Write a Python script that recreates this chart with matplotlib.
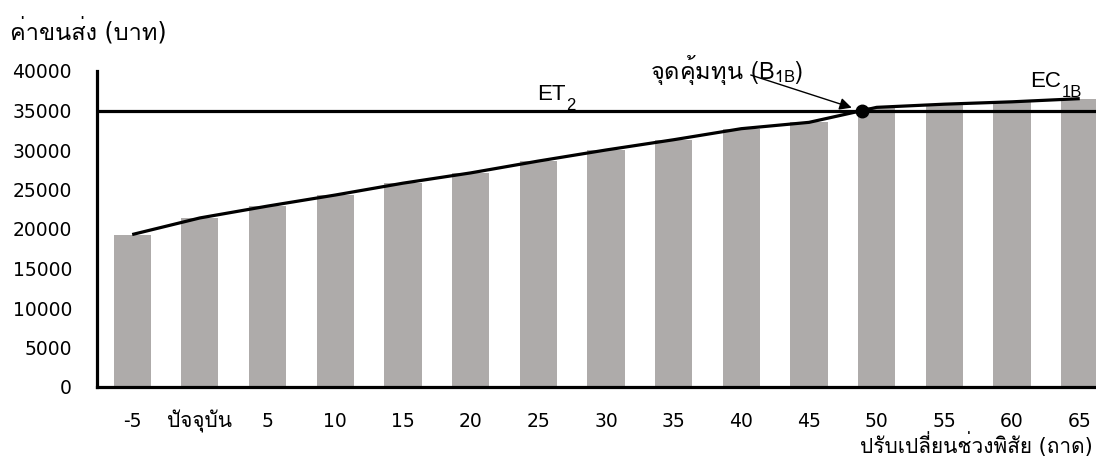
import numpy as np
import matplotlib
matplotlib.use("Agg")
import matplotlib.pyplot as plt
from matplotlib import font_manager
from matplotlib.ft2font import FT2Font

# find a font that has Thai glyphs
thai_font = None
for f in font_manager.fontManager.ttflist:
    try:
        if 0x0E01 in FT2Font(f.fname).get_charmap():
            thai_font = f.name
            break
    except Exception:
        pass

families = ["DejaVu Sans"] + ([thai_font] if thai_font else [])
plt.rcParams["font.family"] = families
plt.rcParams["mathtext.fontset"] = "custom"
plt.rcParams["mathtext.rm"] = "Liberation Sans"
plt.rcParams["mathtext.default"] = "regular"

# Data
categories = ["-5", "ปัจจุบัน", "5", "10", "15", "20", "25", "30",
              "35", "40", "45", "50", "55", "60", "65"]
cost = [19300, 21400, 22900, 24300, 25800, 27100, 28600, 30000,
        31300, 32700, 33500, 35400, 35800, 36100, 36500]
et2 = 35000

x = np.arange(len(categories))
cost = np.array(cost)

fig = plt.figure(figsize=(10.96, 4.62), dpi=100)
ax = fig.add_axes([97 / 1096, 75 / 462, 999 / 1096, 316 / 462])

ax.bar(x, cost, width=0.55, color="#AEABAA", zorder=1)

# break-even point where the cost line crosses ET2
i = np.argmax(cost >= et2)
xb = x[i - 1] + (et2 - cost[i - 1]) / (cost[i] - cost[i - 1])
line_x = np.insert(x.astype(float), i, xb)
line_y = np.insert(cost.astype(float), i, et2)
ax.plot(line_x, line_y, color="black", lw=2.3, zorder=3, solid_capstyle="butt")
ax.axhline(et2, color="black", lw=2.3, zorder=2)
ax.plot([xb], [et2], "o", color="black", ms=9, zorder=4)

ax.annotate("", xy=(xb - 0.12, et2 + 250), xytext=(9.1, 39600),
            arrowprops=dict(arrowstyle="-|>", color="black", lw=1,
                            mutation_scale=18), zorder=5)
ax.text(8.79, 39000, "จุดคุ้มทุน (B$_{1B}$)", fontsize=17, ha="center",
        va="baseline", family=[thai_font or "DejaVu Sans", "DejaVu Sans"])


# label with a dropped subscript
def sub_label(xj, yb, main, sub):
    ax.text(xj, yb, main, fontsize=16, ha="right", va="baseline",
            family="Liberation Sans")
    ax.annotate(sub, xy=(xj, yb), xytext=(0.5, -7), textcoords="offset points",
                fontsize=12, ha="left", va="baseline", family="Liberation Sans")


sub_label(6.40, 36300, "ET", "2")
sub_label(13.72, 38000, "EC", "1B")

ax.set_xlim(-0.52, 14.24)
ax.set_ylim(0, 40000)
ax.set_yticks(range(0, 40001, 5000))
ax.set_xticks(x)
ax.set_xticklabels(categories)
ax.tick_params(axis="both", length=0, labelsize=13.5)
ax.tick_params(axis="x", pad=29)
ax.tick_params(axis="y", pad=18)
for lab in ax.get_xticklabels():
    lab.set_verticalalignment("baseline")
ax.get_xticklabels()[1].set_fontsize(15)

for s in ["top", "right"]:
    ax.spines[s].set_visible(False)
for s in ["left", "bottom"]:
    ax.spines[s].set_linewidth(2.3)

fig.text(10 / 1096, 1 - 31 / 462, "ค่าขนส่ง (บาท)", fontsize=17, va="center")
fig.text(1093 / 1096, 1 - 432 / 462, "ปรับเปลี่ยนช่วงพิสัย (ถาด)", fontsize=15,
         va="top", ha="right")

fig.savefig("out.png", dpi=100)
